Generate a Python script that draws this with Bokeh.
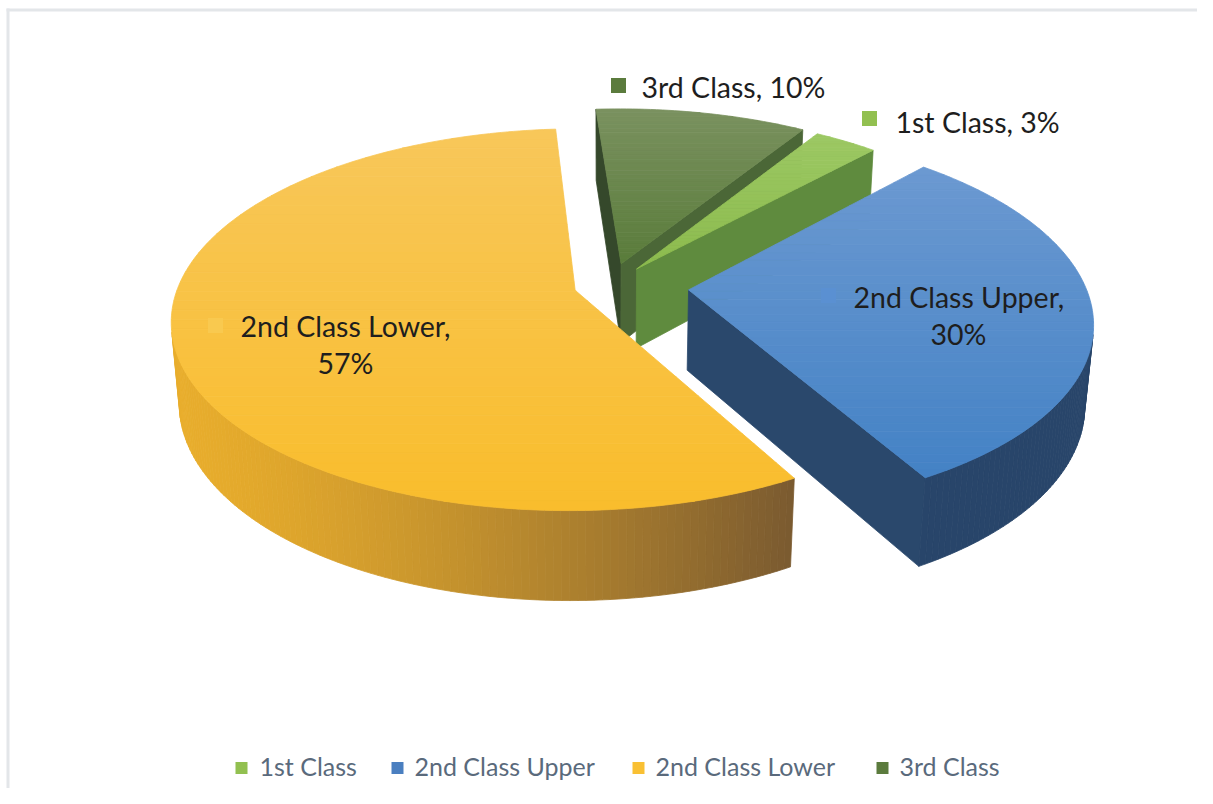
import numpy as np
from bokeh.plotting import figure
from bokeh.models import Range1d
from bokeh.embed import file_html
from bokeh.resources import INLINE
from bokeh.core.properties import value

# ---------------- data ----------------
categories = ["1st Class", "2nd Class Upper", "2nd Class Lower", "3rd Class"]
shares = [3, 30, 57, 10]

# ---------------- style / layout ----------------
FONT = "Lato"
top_hi = ["#9cc863", "#6b99d1", "#f8c75a", "#7a915f"]
top_lo = ["#8cbb4e", "#4482c5", "#f9bd2c", "#5a7c3b"]
side_bright = ["#6f9a48", "#2d4c72", "#e8ad2c", "#4b6737"]
side_dark = ["#5e8a3d", "#28456a", "#7a5a30", "#3d532f"]
cut_start = ["#4a6a33", "#2a486c", "#c08a2e", "#35482b"]
cut_end = ["#5f8b3e", "#2a486c", "#8a6531", "#4b6737"]
key_cols = ["#92c050", "#5a90d2", "#f9c94f", "#5b7b3d"]
legend_cols = ["#92c050", "#4a7fc0", "#f9c033", "#5b7b3d"]
explode = [0.114, 0.20, 0.09, 0.123]
START_DEG = 32.0
DEPTH = 0.2275
PHI = np.radians(27.3)
DIST = 5.79
FOC = 2334.0
XSCALE = 0.984
CX, CY = 609.0, 285.0
TEXT_DY = -10  # renderer baseline correction

W, H = 1197, 788
p = figure(width=W, height=H, output_backend="svg", toolbar_location=None,
           x_range=Range1d(0, W), y_range=Range1d(H, 0),
           min_border=0, x_axis_location=None, y_axis_location=None)
p.grid.visible = False
p.outline_line_color = None
p.background_fill_color = "white"
p.border_fill_color = "white"

# chart-area border (top and left edges visible)
p.line([6, W], [9.5, 9.5], line_color="#e3e6e9", line_width=3)
p.line([7.5, 7.5], [8, H], line_color="#e3e6e9", line_width=3)

cph, sph = np.cos(PHI), np.sin(PHI)
cam = np.array([0.0, DIST * sph, -DIST * cph])


def proj(X, Y, Z):
    X = np.asarray(X, float); Y = np.asarray(Y, float); Z = np.asarray(Z, float)
    yv = Y * cph + Z * sph
    zv = DIST + Z * cph - Y * sph
    return CX + XSCALE * FOC * X / zv, CY - FOC * yv / zv


def hex2rgb(h):
    h = h.lstrip("#")
    return np.array([int(h[i:i + 2], 16) for i in (0, 2, 4)], float)


def lerp(c1, c2, t):
    a, b = hex2rgb(c1), hex2rgb(c2)
    c = a + (b - a) * min(max(t, 0.0), 1.0)
    return "#%02x%02x%02x" % tuple(int(round(v)) for v in c)


def clip_band(pts, y0, y1):
    def half(poly, keep, yl):
        out = []
        n = len(poly)
        for i in range(n):
            P = poly[i]; Q = poly[(i + 1) % n]
            pin, qin = keep(P[1]), keep(Q[1])
            if pin:
                out.append(P)
            if pin != qin:
                t = (yl - P[1]) / (Q[1] - P[1])
                out.append((P[0] + t * (Q[0] - P[0]), yl))
        return out
    r = half(pts, lambda y: y >= y0, y0)
    if len(r) < 3:
        return []
    r = half(r, lambda y: y <= y1, y1)
    return r if len(r) >= 3 else []


total = float(sum(shares))
cum = np.concatenate([[0.0], np.cumsum(shares)]) / total * 360.0
slices = []
for i in range(len(shares)):
    a0 = np.radians(START_DEG + cum[i])
    a1 = np.radians(START_DEG + cum[i + 1])
    mid = 0.5 * (a0 + a1)
    ex, ez = explode[i] * np.sin(mid), explode[i] * np.cos(mid)
    cen = np.array([ex + 0.5 * np.sin(mid), 0.0, ez + 0.5 * np.cos(mid)])
    dist = np.linalg.norm(cam - cen)
    slices.append((dist, i, a0, a1, ex, ez))
slices.sort(key=lambda s: -s[0])

for dist, i, a0, a1, ex, ez in slices:
    n = max(10, int(np.degrees(a1 - a0) / 1.0))
    th = np.linspace(a0, a1, n)
    # ---- side faces ----
    sxs, sys_, scol = [], [], []
    for a, nrm, col in ((a0, (-np.cos(a0), 0, np.sin(a0)), cut_start[i]),
                        (a1, (np.cos(a1), 0, -np.sin(a1)), cut_end[i])):
        P = np.array([ex + 0.5 * np.sin(a), -DEPTH / 2, ez + 0.5 * np.cos(a)])
        if np.dot(nrm, cam - P) > 0:
            X = [ex, ex + np.sin(a), ex + np.sin(a), ex]
            Y = [0, 0, -DEPTH, -DEPTH]
            Z = [ez, ez + np.cos(a), ez + np.cos(a), ez]
            x, y = proj(X, Y, Z)
            sxs.append(list(x)); sys_.append(list(y)); scol.append(col)
    for j in range(n - 1):
        tm = 0.5 * (th[j] + th[j + 1])
        nrm = np.array([np.sin(tm), 0, np.cos(tm)])
        P = np.array([ex + np.sin(tm), -DEPTH / 2, ez + np.cos(tm)])
        if np.dot(nrm, cam - P) <= 0:
            continue
        tt = [th[j], th[j + 1], th[j + 1], th[j]]
        X = [ex + np.sin(t) for t in tt]
        Z = [ez + np.cos(t) for t in tt]
        Y = [0, 0, -DEPTH, -DEPTH]
        x, y = proj(X, Y, Z)
        xm = float(np.mean(x))
        t = ((xm - 175.0) / (792.0 - 175.0)) ** 1.4 if xm > 175 else 0.0
        sxs.append(list(x)); sys_.append(list(y)); scol.append(lerp(side_bright[i], side_dark[i], t))
    if sxs:
        p.patches(sxs, sys_, fill_color=scol, line_color=scol, line_width=0.8)
    # ---- top face with vertical gradient ----
    X = np.concatenate([[ex], ex + np.sin(th)])
    Z = np.concatenate([[ez], ez + np.cos(th)])
    x, y = proj(X, np.zeros_like(X), Z)
    pts = list(zip(x, y))
    ymin, ymax = float(np.min(y)), float(np.max(y))
    NB = 40
    bx, by, bc = [], [], []
    for k in range(NB):
        y0 = ymin + (ymax - ymin) * k / NB
        y1 = ymin + (ymax - ymin) * (k + 1) / NB
        poly = clip_band(pts, y0, y1)
        if poly:
            bx.append([q[0] for q in poly]); by.append([q[1] for q in poly])
            bc.append(lerp(top_hi[i], top_lo[i], (k + 0.5) / NB))
    p.patches(bx, by, fill_color=bc, line_color=bc, line_width=0.8)

# ---------------- data labels ----------------
label_key = [(869, 118), (828, 295), (215, 325), (618, 85)]
label_line1 = [(895, 131), (853, 306), (240, 335), (641, 96)]
label_line2 = [None, (958, 343), (345, 372), None]
LABEL_SIZE = "28.5px"
for i, cat in enumerate(categories):
    kx, ky = label_key[i]
    p.rect([kx], [ky], width=15, height=15, width_units="screen", height_units="screen",
           fill_color=key_cols[i], line_color=None)
    if label_line2[i] is None:
        p.text([label_line1[i][0]], [label_line1[i][1] + TEXT_DY], text=[f"{cat}, {shares[i]}%"],
               text_font=value(FONT), text_font_size=LABEL_SIZE, text_color="#1e1e1e",
               text_align="left", text_baseline="alphabetic")
    else:
        p.text([label_line1[i][0]], [label_line1[i][1] + TEXT_DY], text=[f"{cat},"],
               text_font=value(FONT), text_font_size=LABEL_SIZE, text_color="#1e1e1e",
               text_align="left", text_baseline="alphabetic")
        p.text([label_line2[i][0]], [label_line2[i][1] + TEXT_DY], text=[f"{shares[i]}%"],
               text_font=value(FONT), text_font_size=LABEL_SIZE, text_color="#1e1e1e",
               text_align="center", text_baseline="alphabetic")

# ---------------- legend ----------------
leg_key_x = [241, 397, 638, 882]
leg_text_x = [259, 414, 655, 899]
LEG_Y_KEY, LEG_Y_BASE = 767.5, 775
for i, cat in enumerate(categories):
    p.rect([leg_key_x[i]], [LEG_Y_KEY], width=12, height=12, width_units="screen",
           height_units="screen", fill_color=legend_cols[i], line_color=None)
    p.text([leg_text_x[i]], [LEG_Y_BASE + TEXT_DY], text=[cat], text_font=value(FONT),
           text_font_size="25px", text_color="#5a6a7c", text_align="left",
           text_baseline="alphabetic")

open("out.html", "w").write(file_html(p, INLINE))
